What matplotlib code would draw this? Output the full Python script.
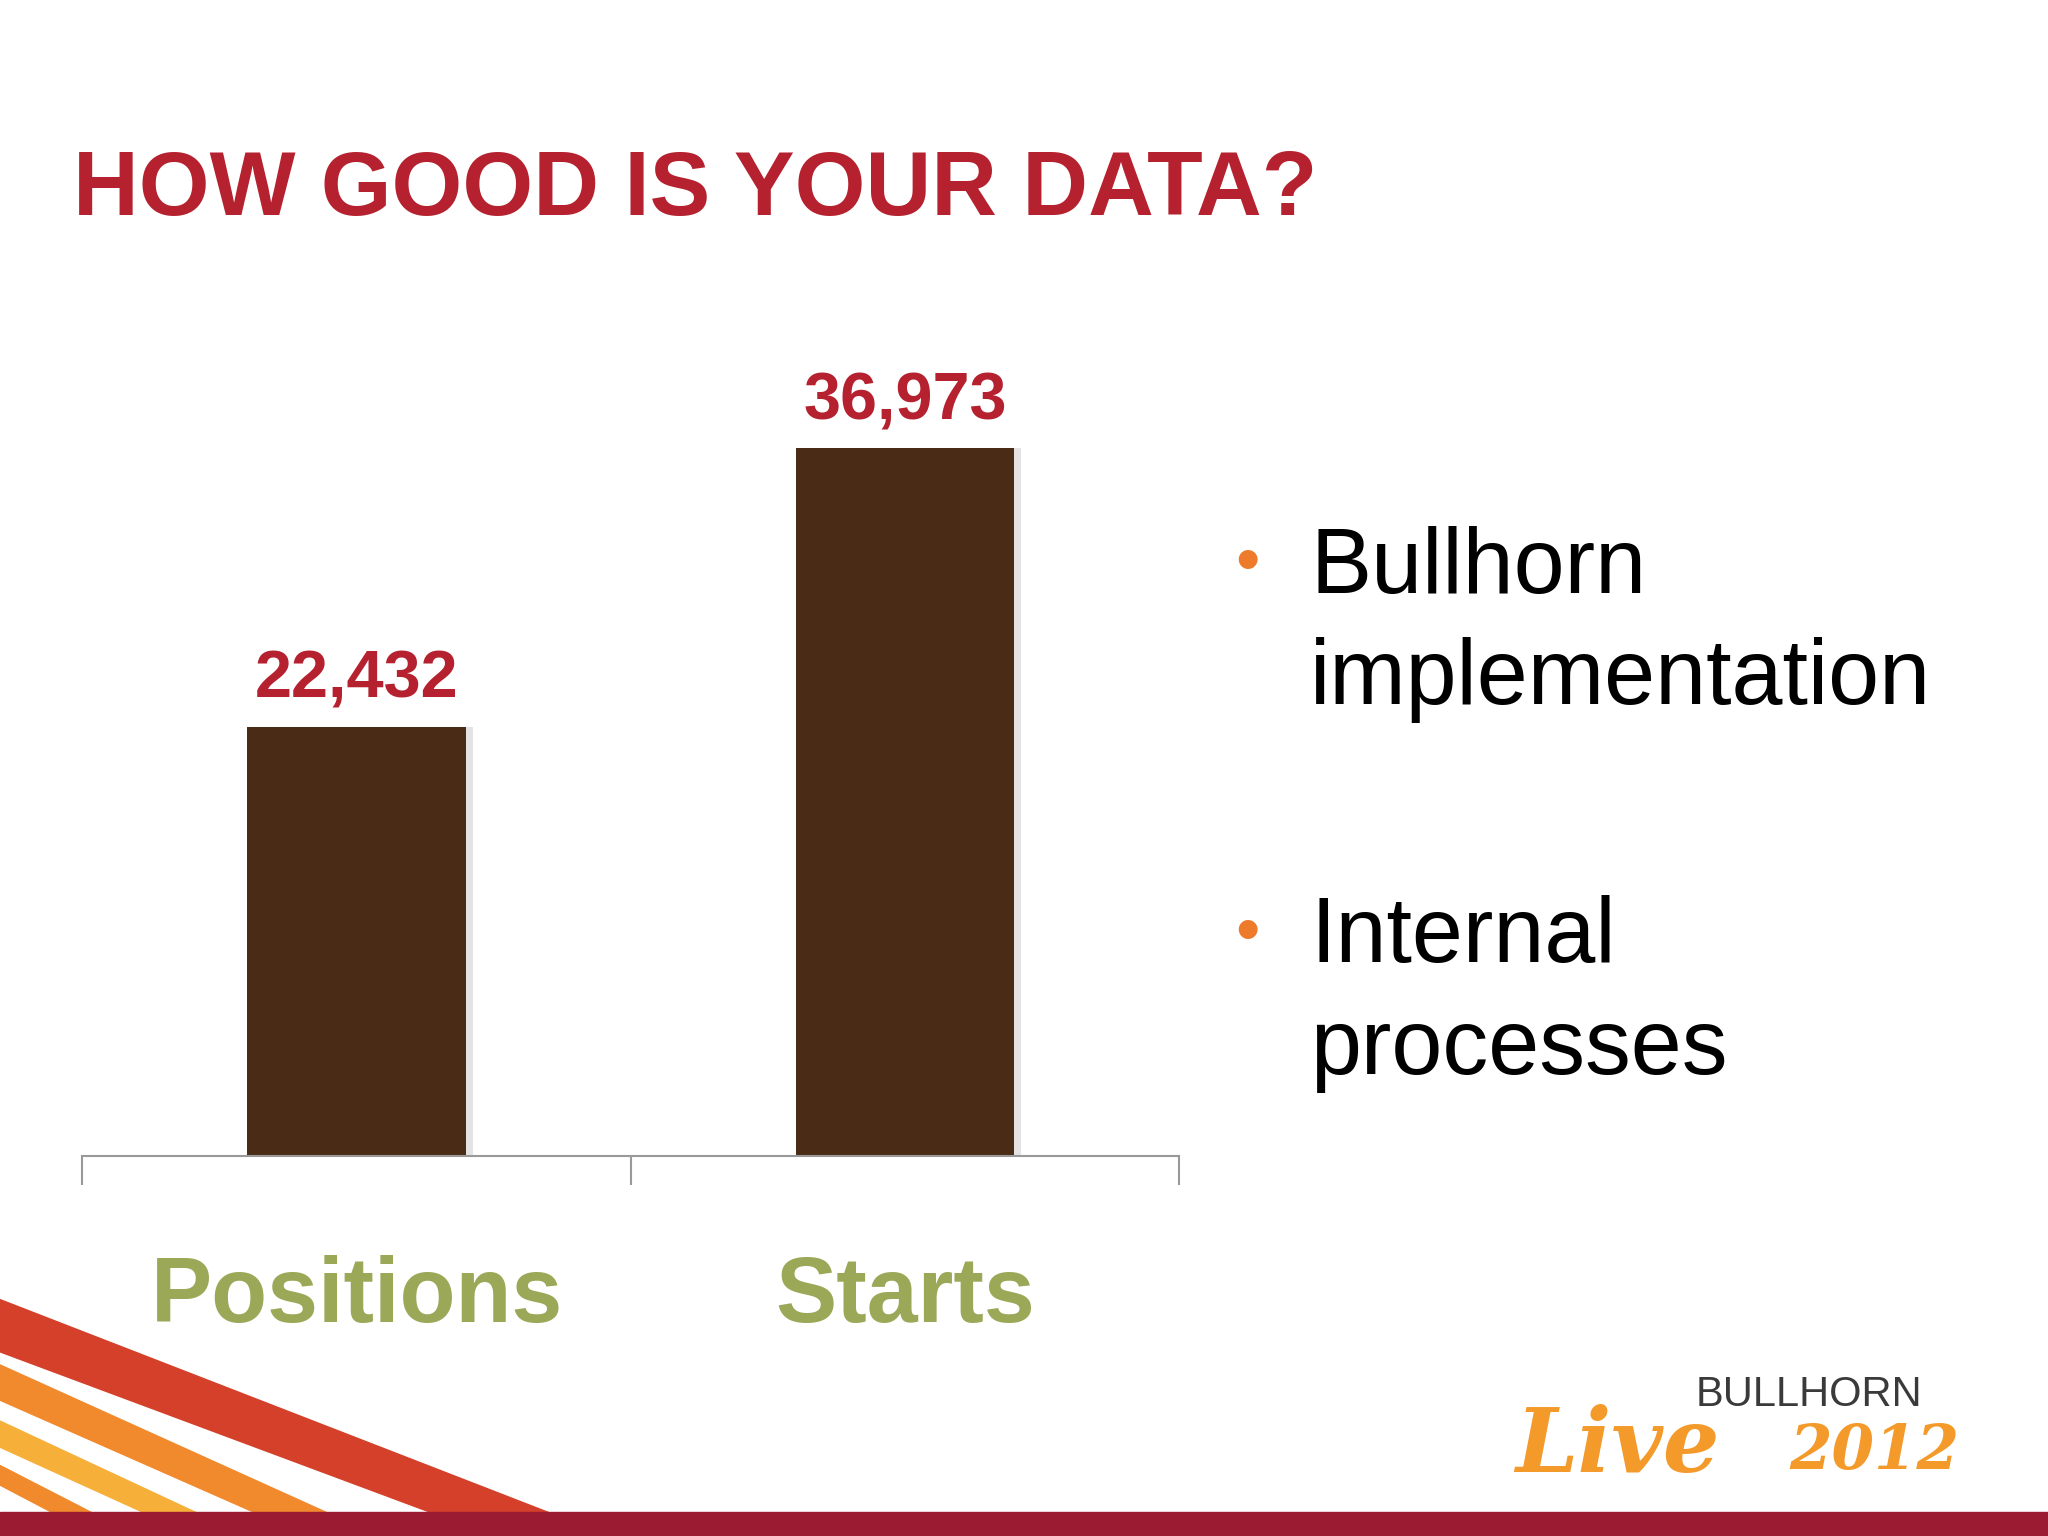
import matplotlib.pyplot as plt
from matplotlib.patches import Polygon, Rectangle

plt.rcParams['font.family'] = ['Liberation Sans', 'DejaVu Sans']

categories = ['Positions', 'Starts']
values = [22432, 36973]
bullets = ['Bullhorn\nimplementation', 'Internal\nprocesses']

RED = '#b5212e'
BROWN = '#4a2b16'
GREEN = '#9aa858'
ORANGE = '#ee7a2c'

W, H = 1568, 1176  # layout grid in reference pixels
fig = plt.figure(figsize=(20.48, 15.36), dpi=100)
fig.patch.set_facecolor('white')

def fx(x): return x / W
def fy(y): return 1 - y / H

fig.text(fx(56), fy(147), 'HOW GOOD IS YOUR DATA?', color=RED, fontsize=65.5,
         fontweight='bold', ha='left', va='center')

ax = fig.add_axes([fx(63), fy(885), fx(903) - fx(63), fy(299) - fy(885)])
ax.set_xlim(-0.5, 1.5)
ax.set_ylim(0, 40000)
x = range(len(categories))
# soft shadow
ax.bar([i + 0.012 for i in x], values, width=0.4, color='#c8c8c8', alpha=0.5, zorder=1)
ax.bar(x, values, width=0.398, color=BROWN, zorder=2)
for i, v in zip(x, values):
    ax.text(i, v + 800, f'{v:,}', color=RED, fontsize=48, fontweight='bold',
            ha='center', va='bottom')
for s in ['top', 'right', 'left']:
    ax.spines[s].set_visible(False)
ax.spines['bottom'].set_color('#999999')
ax.spines['bottom'].set_linewidth(1.5)
ax.set_yticks([])
ax.set_xticks([-0.5, 0.5, 1.5])
ax.set_xticklabels([])
ax.tick_params(axis='x', direction='out', length=21, color='#999999', width=1.5)
ax.patch.set_alpha(0)
for i, c in zip(x, categories):
    ax.text(i, -0.185, c, transform=ax.get_xaxis_transform(), color=GREEN,
            fontsize=66, fontweight='bold', ha='center', va='center')

for b, yb, yt in zip(bullets, [432, 715], [478, 761]):
    fig.text(fx(955), fy(yb), '\u2022', color=ORANGE,
             fontsize=50, ha='center', va='center')
    fig.text(fx(1003), fy(yt), b, color='black', fontsize=66, ha='left',
             va='center', linespacing=1.38)

# decorative stripes bottom-left
stripes = [
    ([(0, 995), (420, 1158), (330, 1158), (0, 1035)], '#d4402a'),
    ([(0, 1045), (250, 1158), (195, 1158), (0, 1072)], '#f08a2c'),
    ([(0, 1088), (150, 1158), (110, 1158), (0, 1108)], '#f6b03a'),
    ([(0, 1122), (70, 1158), (40, 1158), (0, 1137)], '#f08a2c'),
]
for pts, col in stripes:
    fig.patches.append(Polygon([(fx(a), fy(b)) for a, b in pts], closed=True,
                               transform=fig.transFigure, color=col, zorder=0))
fig.patches.append(Rectangle((0, 0), 1, fy(1158), transform=fig.transFigure,
                             color='#9b1b32', zorder=1))

# logo
fig.text(fx(1298), fy(1068), 'BULLHORN', color='#3a3a3a', fontsize=30,
         ha='left', va='center')
fig.text(fx(1160), fy(1108), 'Live', color='#f39a2a', fontsize=64,
         fontweight='bold', fontstyle='italic', family='DejaVu Serif',
         ha='left', va='center')
fig.text(fx(1370), fy(1112), '2012', color='#f39a2a', fontsize=44,
         fontweight='bold', fontstyle='italic', family='DejaVu Serif',
         ha='left', va='center')

fig.savefig('out.png', dpi=100, facecolor='white')
